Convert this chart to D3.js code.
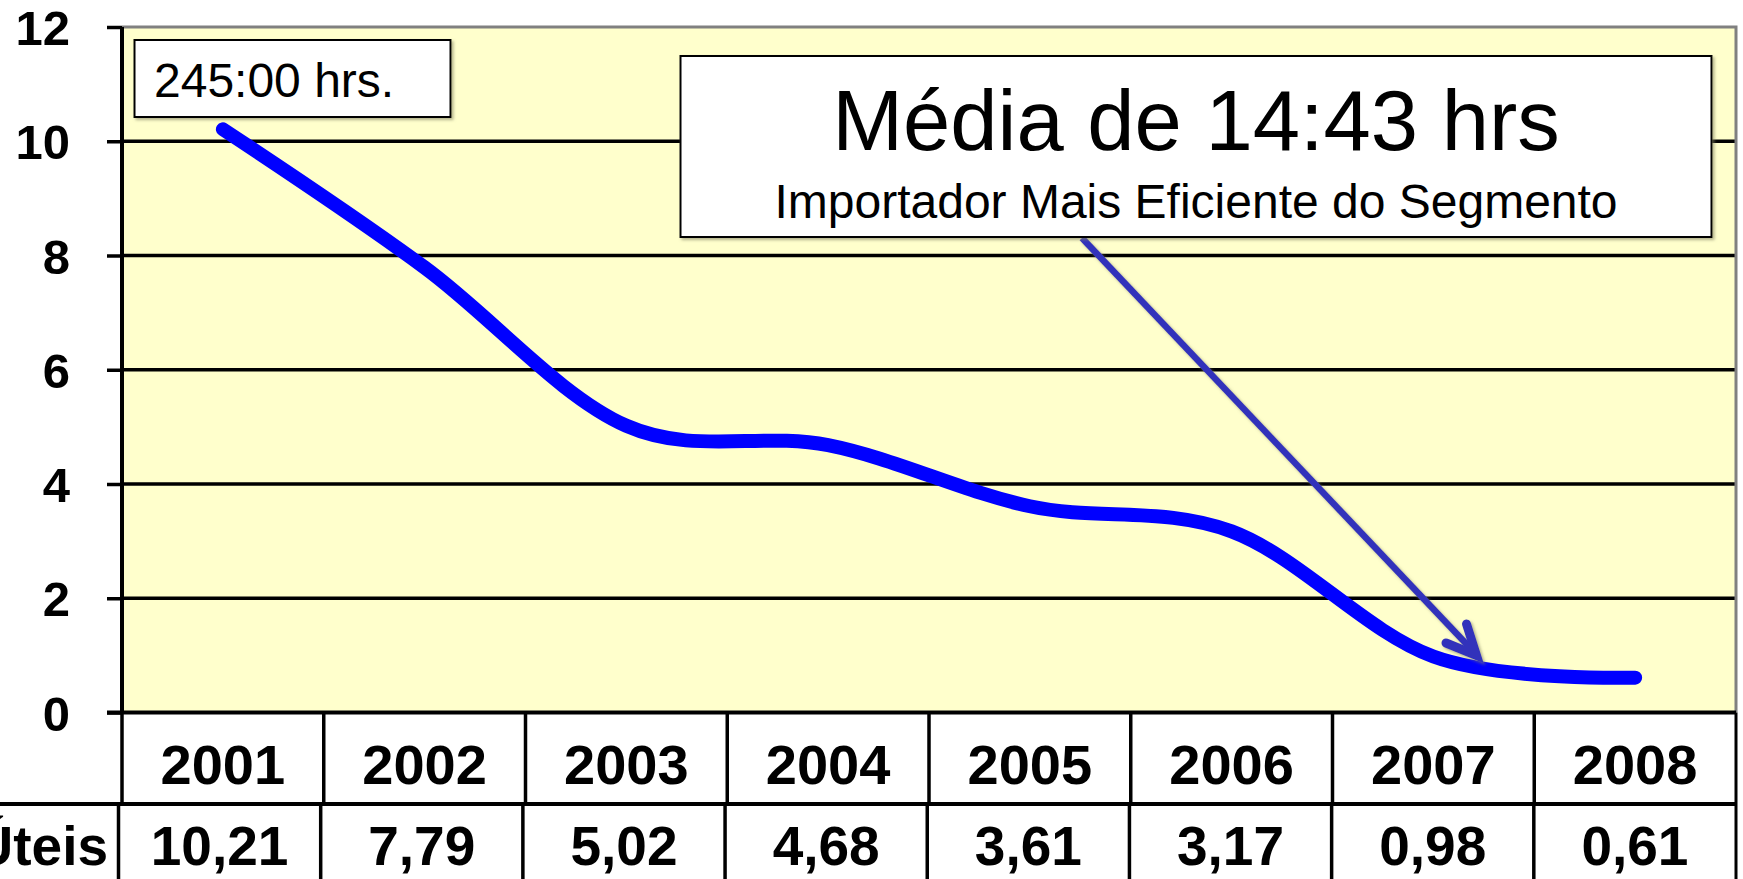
<!DOCTYPE html>
<html>
<head>
<meta charset="utf-8">
<script src="https://cdn.jsdelivr.net/npm/d3@7"></script>
<style>
  html, body { margin: 0; padding: 0; background: #ffffff; overflow: hidden; }
  svg { display: block; font-family: "Liberation Sans", Arial, sans-serif; }
</style>
</head>
<body>
<svg id="chart" width="1743" height="879"></svg>
<script>
// ---- data ----
const years = ["2001", "2002", "2003", "2004", "2005", "2006", "2007", "2008"];
const dias = [10.21, 7.79, 5.02, 4.68, 3.61, 3.17, 0.98, 0.61];
const diasLabels = ["10,21", "7,79", "5,02", "4,68", "3,61", "3,17", "0,98", "0,61"];
const yTicks = [0, 2, 4, 6, 8, 10, 12];
const rowLabel = "Dias Úteis";
const note1 = "245:00 hrs.";
const noteTitle = "Média de 14:43 hrs";
const noteSub = "Importador Mais Eficiente do Segmento";

// ---- layout ----
const svg = d3.select("#chart");
const L = 122, R = 1736, T = 27, B = 712.5;
const x = d3.scaleBand().domain(years).range([L, R]).padding(0);
const x2 = d3.scaleBand().domain(years).range([118.5, R]).padding(0);
const y = d3.scaleLinear().domain([0, 12]).range([B, T]);

const defs = svg.append("defs");
const f = defs.append("filter").attr("id", "shadow").attr("x", "-20%").attr("y", "-20%").attr("width", "140%").attr("height", "140%");
f.append("feDropShadow").attr("dx", 2).attr("dy", 2).attr("stdDeviation", 1.5).attr("flood-color", "#808060").attr("flood-opacity", 0.6);

// plot background
svg.append("rect").attr("x", L).attr("y", T).attr("width", R - L).attr("height", B - T).attr("fill", "#FFFFCC");

// grid lines
svg.append("g").selectAll("line").data(yTicks.filter(d => d > 0 && d < 12)).join("line")
  .attr("x1", L).attr("x2", R).attr("y1", d => y(d)).attr("y2", d => y(d))
  .attr("stroke", "#000").attr("stroke-width", 3.5);

// top and right border (gray)
svg.append("path").attr("d", `M${L},${y(12)}H${R}V${B}`).attr("fill", "none").attr("stroke", "#808080").attr("stroke-width", 3);

// y axis
const yAxis = svg.append("g").attr("transform", `translate(${L},0)`)
  .call(d3.axisLeft(y).tickValues(yTicks).tickSize(15).tickPadding(37).tickFormat(d3.format("d")));
yAxis.select(".domain").attr("stroke", "#000").attr("stroke-width", 4).attr("d", `M0,${T}V${B}`);
yAxis.selectAll(".tick line").attr("stroke", "#000").attr("stroke-width", 3.5);
yAxis.selectAll(".tick text").attr("font-size", 49).attr("font-weight", "bold").attr("fill", "#000")
  .attr("font-family", "Liberation Sans, Arial, sans-serif").attr("dy", "0.36em");

// line series
const line = d3.line().x((d, i) => x(years[i]) + x.bandwidth() / 2).y(d => y(d)).curve(d3.curveCardinal.tension(0));
svg.append("path").datum(dias).attr("d", line).attr("fill", "none").attr("stroke", "#0000FF")
  .attr("stroke-width", 14).attr("stroke-linecap", "round").attr("stroke-linejoin", "round");

// data table
const tbl = svg.append("g");
// year row
tbl.selectAll("text.yr").data(years).join("text").attr("class", "yr")
  .attr("x", d => x(d) + x.bandwidth() / 2).attr("y", 784).attr("text-anchor", "middle")
  .attr("font-size", 56).attr("font-weight", "bold").text(d => d);
tbl.selectAll("line.yv").data(years.concat(["end"])).join("line").attr("class", "yv")
  .attr("x1", d => d === "end" ? R : x(d)).attr("x2", d => d === "end" ? R : x(d))
  .attr("y1", B).attr("y2", 804).attr("stroke", "#000").attr("stroke-width", d => d === "end" ? 3 : 3.5);
// value row
tbl.selectAll("text.val").data(diasLabels).join("text").attr("class", "val")
  .attr("x", (d, i) => x2(years[i]) + x2.bandwidth() / 2).attr("y", 865).attr("text-anchor", "middle")
  .attr("font-size", 55).attr("font-weight", "bold").text(d => d);
tbl.selectAll("line.vv").data(years.concat(["end"])).join("line").attr("class", "vv")
  .attr("x1", d => d === "end" ? R : x2(d)).attr("x2", d => d === "end" ? R : x2(d))
  .attr("y1", 804).attr("y2", 879).attr("stroke", "#000").attr("stroke-width", d => d === "end" ? 3 : 3.5);
tbl.append("text").attr("x", 108).attr("y", 865).attr("text-anchor", "end")
  .attr("font-size", 55).attr("font-weight", "bold").text(rowLabel);
// horizontal table lines
tbl.append("line").attr("x1", L - 15).attr("x2", R).attr("y1", B).attr("y2", B).attr("stroke", "#000").attr("stroke-width", 4);
tbl.append("line").attr("x1", 0).attr("x2", R).attr("y1", 804).attr("y2", 804).attr("stroke", "#000").attr("stroke-width", 4);

// annotation 1
const a1 = svg.append("g");
a1.append("rect").attr("x", 134.5).attr("y", 40).attr("width", 316).attr("height", 77)
  .attr("fill", "#fff").attr("stroke", "#000").attr("stroke-width", 2).attr("filter", "url(#shadow)");
a1.append("text").attr("x", 154).attr("y", 97).attr("font-size", 48).text(note1);

// arrow
const arrowColor = "#3333BB";
const ag = svg.append("g").attr("filter", "url(#shadow)");
ag.append("line").attr("x1", 1082).attr("y1", 238).attr("x2", 1474).attr("y2", 652)
  .attr("stroke", arrowColor).attr("stroke-width", 6.5);
ag.append("path").attr("d", "M1466.5,624 L1476.5,655.5 L1446,643")
  .attr("fill", "none").attr("stroke", arrowColor).attr("stroke-width", 9)
  .attr("stroke-linecap", "round").attr("stroke-linejoin", "miter");

// annotation 2
const a2 = svg.append("g");
a2.append("rect").attr("x", 680.5).attr("y", 56).attr("width", 1031).attr("height", 181)
  .attr("fill", "#fff").attr("stroke", "#000").attr("stroke-width", 2).attr("filter", "url(#shadow)");
a2.append("text").attr("x", 1196).attr("y", 150).attr("text-anchor", "middle").attr("font-size", 85).text(noteTitle);
a2.append("text").attr("x", 1196).attr("y", 218).attr("text-anchor", "middle").attr("font-size", 48).text(noteSub);
</script>
</body>
</html>
